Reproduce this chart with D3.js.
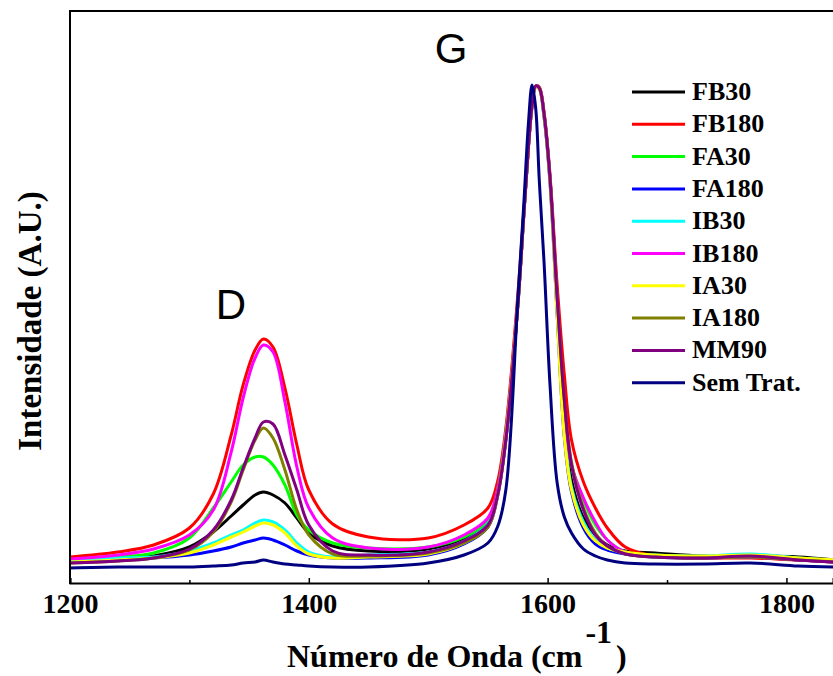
<!DOCTYPE html>
<html>
<head>
<meta charset="utf-8">
<script src="https://cdn.jsdelivr.net/npm/d3@7"></script>
<style>
  html, body { margin: 0; padding: 0; background: #fff; }
  svg { display: block; }
</style>
</head>
<body>
<svg id="chart" width="833" height="676"></svg>
<script>
// Raman shift (cm^-1)
const wavenumbers = [1200, 1240, 1270, 1300, 1320, 1335, 1345, 1355, 1362, 1370,
  1380, 1390, 1400, 1420, 1450, 1500, 1530, 1550, 1558, 1565,
  1575, 1580, 1584, 1587, 1590, 1593, 1597, 1602, 1608, 1614,
  1620, 1630, 1640, 1650, 1665, 1690, 1730, 1770, 1810, 1841];

// Intensities (a.u.)
const FB30 = [22, 24, 27, 36, 51, 67, 78, 88, 91, 88, 80, 65, 50, 37, 32, 34, 44, 61, 89, 145,
  278, 368, 438, 478, 497, 495, 468, 403, 278, 158, 103, 65, 48, 38, 32, 30, 27, 27, 26, 23];
const FB180 = [26, 31, 38, 55, 89, 148, 198, 233, 244, 236, 195, 138, 93, 59, 46, 45, 58, 75, 101, 155,
  288, 371, 440, 479, 497, 496, 471, 408, 298, 208, 143, 101, 75, 55, 36, 27, 25, 25, 23, 22];
const FA30 = [23, 26, 30, 45, 75, 101, 118, 126, 126, 118, 98, 68, 53, 40, 35, 36, 46, 63, 93, 150,
  278, 368, 438, 478, 497, 495, 468, 403, 283, 175, 118, 83, 58, 43, 31, 27, 26, 26, 24, 22];
const FA180 = [22, 24, 25, 28, 32, 36, 40, 43, 45, 43, 38, 32, 28, 25, 25, 28, 39, 56, 86, 143,
  277, 367, 437, 477, 496, 494, 466, 400, 268, 146, 91, 55, 39, 33, 29, 26, 25, 26, 23, 21];
const IB30 = [23, 25, 26, 32, 40, 48, 53, 60, 63, 61, 53, 40, 31, 26, 28, 31, 42, 59, 88, 146,
  278, 368, 438, 478, 497, 495, 468, 403, 273, 153, 96, 61, 43, 35, 30, 28, 27, 29, 25, 23];
const IB180 = [24, 28, 34, 48, 73, 131, 185, 225, 238, 231, 181, 116, 75, 45, 35, 36, 48, 65, 93, 149,
  279, 369, 438, 478, 497, 495, 469, 405, 283, 173, 118, 85, 61, 43, 31, 27, 25, 26, 23, 21];
const IA30 = [21, 23, 25, 30, 38, 46, 51, 57, 60, 58, 50, 37, 29, 25, 26, 29, 40, 57, 87, 145,
  277, 367, 437, 477, 496, 494, 467, 401, 268, 146, 93, 58, 42, 35, 31, 28, 27, 28, 25, 23];
const IA180 = [20, 22, 25, 33, 51, 81, 113, 143, 155, 145, 113, 73, 48, 29, 27, 30, 40, 56, 87, 143,
  276, 367, 437, 478, 497, 495, 469, 405, 285, 183, 121, 75, 50, 37, 29, 26, 25, 26, 23, 21];
const MM90 = [20, 22, 25, 34, 53, 83, 115, 145, 161, 159, 128, 93, 58, 32, 28, 31, 42, 58, 87, 143,
  276, 367, 437, 478, 497, 495, 469, 405, 285, 183, 118, 73, 48, 37, 29, 26, 25, 27, 23, 21];
const SemTrat = [15, 16, 16, 16, 17, 18, 20, 21, 23, 21, 19, 18, 17, 16, 16, 20, 28, 40, 56, 93,
  283, 378, 461, 498, 475, 403, 321, 198, 100, 66, 50, 34, 27, 23, 20, 19, 19, 20, 17, 16];

const seriesNames = ["FB30", "FB180", "FA30", "FA180", "IB30", "IB180", "IA30", "IA180", "MM90", "Sem Trat."];
const seriesValues = [FB30, FB180, FA30, FA180, IB30, IB180, IA30, IA180, MM90, SemTrat];
const seriesColors = ["#000000", "#ff0000", "#00ff00", "#0000ff", "#00ffff", "#ff00ff", "#ffff00", "#808000", "#800080", "#000080"];

const majorTicks = [1200, 1400, 1600, 1800];
const minorTicks = [1300, 1500, 1700];
const peakLabels = ["D", "G"];

const svg = d3.select("#chart");
const mLeft = 70, mRight = 833, mTop = 11, mBottom = 583;

const x = d3.scaleLinear().domain([1200, 1839]).range([mLeft, mRight]);
const y = d3.scaleLinear().domain([0, 572]).range([mBottom, mTop]);

svg.append("defs").append("clipPath").attr("id", "clip")
  .append("rect").attr("x", mLeft).attr("y", mTop).attr("width", mRight - mLeft).attr("height", mBottom - mTop);

const line = d3.line()
  .x(d => x(d[0]))
  .y(d => y(d[1]))
  .curve(d3.curveCatmullRom.alpha(0.5));

const plot = svg.append("g").attr("clip-path", "url(#clip)");
seriesValues.forEach((vals, i) => {
  plot.append("path")
    .datum(wavenumbers.map((w, j) => [w, vals[j]]))
    .attr("fill", "none")
    .attr("stroke", seriesColors[i])
    .attr("stroke-width", 3)
    .attr("stroke-linejoin", "round")
    .attr("d", line);
});

// frame
svg.append("line").attr("x1", mLeft).attr("x2", mRight).attr("y1", mTop).attr("y2", mTop)
  .attr("stroke", "#000").attr("stroke-width", 2);
svg.append("line").attr("x1", mLeft).attr("x2", mLeft).attr("y1", mTop - 1).attr("y2", mBottom + 1)
  .attr("stroke", "#000").attr("stroke-width", 2);

// x axis
const xAxis = d3.axisBottom(x).tickValues(majorTicks).tickSize(-5).tickPadding(10).tickFormat(d3.format("d"));
const gx = svg.append("g").attr("transform", `translate(0,${mBottom})`).call(xAxis);
gx.select(".domain").attr("stroke-width", 2);
gx.selectAll(".tick line").attr("stroke-width", 1.5);
gx.selectAll(".tick text")
  .attr("font-family", "'Liberation Serif', 'Times New Roman', serif")
  .attr("font-weight", "bold")
  .attr("font-size", 28)
  .attr("fill", "#000");
const gxm = svg.append("g").attr("transform", `translate(0,${mBottom})`)
  .call(d3.axisBottom(x).tickValues(minorTicks).tickSize(-3).tickFormat(""));
gxm.select(".domain").remove();
gxm.selectAll(".tick line").attr("stroke-width", 1.5);

// axis titles
const title = svg.append("text")
  .attr("x", 287).attr("y", 667)
  .attr("font-family", "'Liberation Serif', 'Times New Roman', serif")
  .attr("font-weight", "bold")
  .attr("font-size", 32)
  .attr("fill", "#000");
title.append("tspan").text("Número de Onda (cm");
title.append("tspan").attr("dx", 3).attr("dy", -24).text("-1");
title.append("tspan").attr("dx", 4).attr("dy", 24).text(")");

svg.append("text")
  .attr("transform", "translate(41,321) rotate(-90)")
  .attr("text-anchor", "middle")
  .attr("font-family", "'Liberation Serif', 'Times New Roman', serif")
  .attr("font-weight", "bold")
  .attr("font-size", 33)
  .attr("fill", "#000")
  .text("Intensidade (A.U.)");

// peak labels
svg.append("text").attr("x", 231).attr("y", 319).attr("text-anchor", "middle")
  .attr("font-family", "'Liberation Sans', Arial, sans-serif").attr("font-size", 42).attr("fill", "#000")
  .text(peakLabels[0]);
svg.append("text").attr("x", 451).attr("y", 63).attr("text-anchor", "middle")
  .attr("font-family", "'Liberation Sans', Arial, sans-serif").attr("font-size", 42).attr("fill", "#000")
  .text(peakLabels[1]);

// legend
const legend = svg.append("g").attr("transform", "translate(632,92)");
seriesNames.forEach((name, i) => {
  const g = legend.append("g").attr("transform", `translate(0,${i * 32.3})`);
  g.append("line").attr("x1", 0).attr("x2", 53).attr("y1", 0).attr("y2", 0)
    .attr("stroke", seriesColors[i]).attr("stroke-width", 3);
  g.append("text").attr("x", 60).attr("y", 8)
    .attr("font-family", "'Liberation Serif', 'Times New Roman', serif")
    .attr("font-weight", "bold").attr("font-size", 26).attr("fill", "#000")
    .text(name);
});
</script>
</body>
</html>
